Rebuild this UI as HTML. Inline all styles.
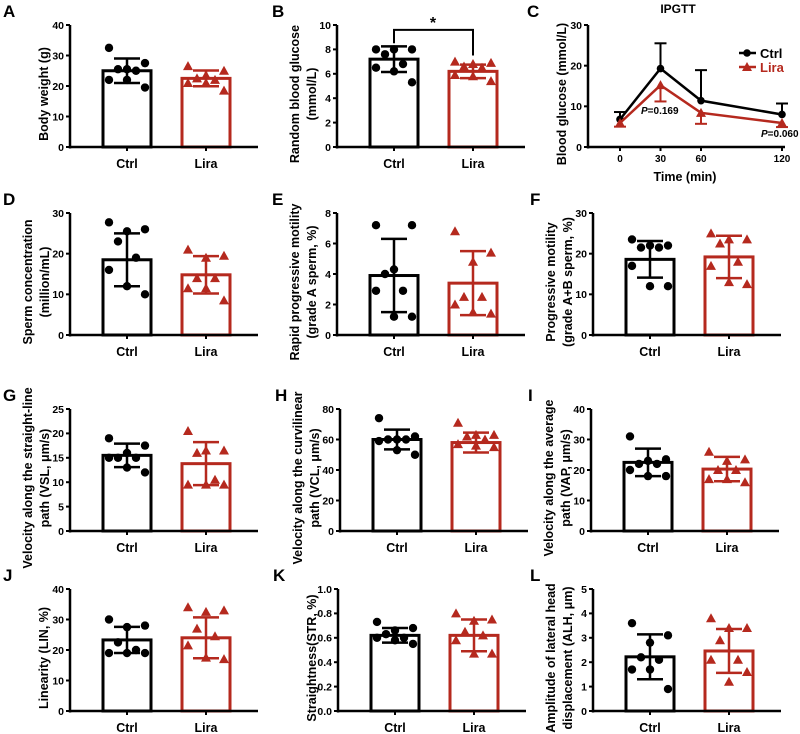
<!DOCTYPE html>
<html><head><meta charset="utf-8"><style>
body{margin:0;background:#fff;}
svg{display:block;font-family:"Liberation Sans",Arial,sans-serif;font-weight:bold;}
</style></head><body>
<svg id="fig" width="800" height="734" viewBox="0 0 800 734" xmlns="http://www.w3.org/2000/svg"></svg>
<script>
const aCtrl=[32.5,27.5,25.5,25.5,25,22,22,19.5];
const aLira=[26.5,25,23.5,22.5,22,21,21,18.5];
const aMean=[25,22.5];const aSd=[4,2.6];
const bCtrl=[8.0,8.0,8.0,7.6,6.8,6.5,6.2,5.3];
const bLira=[7.0,6.9,6.8,6.6,6.5,5.9,5.8,5.4];
const bMean=[7.2,6.2];const bSd=[1.05,0.55];
const cTimes=[0,30,60,120];
const cCtrlMean=[6.8,19.3,11.4,8.0];
const cCtrlSd=[1.8,6.2,7.5,2.7];
const cLiraMean=[5.9,15.2,8.4,5.9];
const cLiraSd=[0.9,4.0,2.7,1.0];
const cTicks=[0,30,60,120];
const dCtrl=[27.7,26,25.5,23,19,16,12,10];
const dLira=[21,19.5,19,14,14,11.5,11.5,8.5];
const dMean=[18.5,14.8];const dSd=[6.5,4.6];
const eCtrl=[7.2,7.2,4.3,4.0,2.9,2.9,1.2,1.2];
const eLira=[6.8,5.4,4.8,2.5,2.5,2.0,1.5,1.4];
const eMean=[3.9,3.4];const eSd=[2.4,2.1];
const fCtrl=[23.5,22,22,21.5,21.5,17,12,12];
const fLira=[25,23.5,23.5,22.5,18,17,13,12.5];
const fMean=[18.6,19.2];const fSd=[4.5,5.2];
const gCtrl=[19,17.5,16,15,15,15,13,12];
const gLira=[20.5,16.5,16.5,16,10.5,9.5,9.5,9.5];
const gMean=[15.5,13.8];const gSd=[2.4,4.4];
const hCtrl=[74,62,60,60,60,59,53,50];
const hLira=[71,63,63,62,60,57,56,55];
const hMean=[60,58];const hSd=[6.5,6.5];
const iCtrl=[31,23.5,23,22,22,20,18,18];
const iLira=[26,23.5,23,20,20,17,17,16];
const iMean=[22.5,20.3];const iSd=[4.5,4.0];
const jCtrl=[30,28,27.5,22.5,20,19,19,19];
const jLira=[34,33,32.5,27,24.5,21.5,17.5,17];
const jMean=[23.3,24];const jSd=[4.3,6.7];
const kCtrl=[0.73,0.68,0.66,0.63,0.6,0.6,0.58,0.55];
const kLira=[0.80,0.75,0.74,0.65,0.62,0.58,0.47,0.47];
const kMean=[0.62,0.62];const kSd=[0.06,0.13];
const lCtrl=[3.6,3.1,2.8,2.2,2.1,1.7,1.7,0.9];
const lLira=[3.8,3.4,3.4,2.9,2.1,2.1,1.2,1.6];
const lMean=[2.22,2.46];const lSd=[0.92,0.9];
const categories=["Ctrl","Lira"];

const NS="http://www.w3.org/2000/svg";
const svg=document.getElementById('fig');
const RED="#b5291e";
function el(tag,attrs,parent,text){const e=document.createElementNS(NS,tag);for(const k in attrs)e.setAttribute(k,attrs[k]);if(text!==undefined)e.textContent=text;(parent||svg).appendChild(e);return e;}
const jitter=[-18,18,0,-9,9,-18,0,18];

function yAxis(g,ax,y0,yt,max,step,fmt){
  el('line',{x1:ax,y1:y0+1.5,x2:ax,y2:yt,stroke:'#000','stroke-width':2.5},g);
  for(let v=0;v<=max+1e-9;v+=step){const y=y0-(v/max)*(y0-yt);
    el('line',{x1:ax-4,y1:y,x2:ax,y2:y,stroke:'#000','stroke-width':2},g);
    const t=el('text',{x:ax-6,y:y+3.8,'font-size':10.5,'text-anchor':'end'},g,fmt?fmt(v):String(v));
    }
}
function yTitle(g,ax,y0,yt,lines){
  const cy=(y0+yt)/2+8;
  const xs=lines.length===1?[ax-22]:[ax-38,ax-21];
  lines.forEach((s,i)=>{const t=el('text',{x:xs[i],y:cy,'font-size':12.5,'text-anchor':'middle',transform:`rotate(-90 ${xs[i]} ${cy})`},g,s);
    });
}
function tri(g,x,y,c){el('polygon',{points:`${x},${y-5} ${x-5},${y+4} ${x+5},${y+4}`,fill:c},g);}

function barPanel(letter,ax,y0,max,step,ctrl,lira,means,sds,lines,fmt){
  const g=el('g',{});
  
  const yt=y0-122;
  const ys=v=>y0-(v/max)*(y0-yt);
  const lt=el('text',{x:ax-(ax<100?67:(ax<400?65:63)),y:yt-8,'font-size':17},g,letter);
  
  [ctrl,lira].forEach((d,i)=>{
    const cx=ax+(i?136:57), col=i?RED:'#000';
    const m=means[i],s=sds[i];
    const bar=el('rect',{x:cx-24,y:ys(m),width:48,height:y0-ys(m),fill:'#fff',stroke:col,'stroke-width':3},g);
    
    d.forEach((v,j)=>{const px=cx+jitter[j%jitter.length];
      if(i)tri(g,px,ys(v),RED);else el('circle',{cx:px,cy:ys(v),r:4.2,fill:'#000'},g);});
    el('line',{x1:cx,y1:ys(m+s),x2:cx,y2:ys(m-s),stroke:col,'stroke-width':2.5},g);
    el('line',{x1:cx-13,y1:ys(m+s),x2:cx+13,y2:ys(m+s),stroke:col,'stroke-width':2.5},g);
    el('line',{x1:cx-13,y1:ys(m-s),x2:cx+13,y2:ys(m-s),stroke:col,'stroke-width':2.5},g);
    el('line',{x1:cx,y1:y0,x2:cx,y2:y0+4,stroke:'#000','stroke-width':2},g);
    const t=el('text',{x:cx,y:y0+21,'font-size':12.5,'text-anchor':'middle'},g,categories[i]);
    
  });
  el('line',{x1:ax,y1:y0,x2:ax+188,y2:y0,stroke:'#000','stroke-width':2.5},g);
  yAxis(g,ax,y0,yt,max,step,fmt);
  yTitle(g,ax,y0,yt,lines);
  return {g,ys};
}

barPanel('A',70,147,40,10,aCtrl,aLira,aMean,aSd,['Body weight (g)']);
const pb=barPanel('B',337,147,10,2,bCtrl,bLira,bMean,bSd,['Random blood glucose','(mmol/L)']);
{const by=pb.ys(9.6);
 el('path',{d:`M${337+57},${pb.ys(8.5)} V${by} H${337+136} V${pb.ys(7.5)}`,fill:'none',stroke:'#000','stroke-width':2},pb.g);
 const st=el('text',{x:337+96,y:by-2,'font-size':16,'text-anchor':'middle'},pb.g,'*');
 }

{
 const g=el('g',{});
 const ax=588,y0=147,yt=25,max=30;
 const ys=v=>y0-(v/max)*(y0-yt);
 const xs=t=>620+t*(162/120);
 const lt=el('text',{x:527,y:17,'font-size':17},g,'C');
 const tt=el('text',{x:678,y:13,'font-size':12,'text-anchor':'middle'},g,'IPGTT');
 el('line',{x1:ax,y1:y0,x2:785,y2:y0,stroke:'#000','stroke-width':2.5},g);
 cTicks.forEach(t=>{el('line',{x1:xs(t),y1:y0,x2:xs(t),y2:y0+4,stroke:'#000','stroke-width':2},g);
   const l=el('text',{x:xs(t),y:y0+15,'font-size':10,'text-anchor':'middle'},g,String(t));});
 yAxis(g,ax,y0,yt,max,10);
 yTitle(g,ax,y0,yt,['Blood glucose (mmol/L)']);
 const xt=el('text',{x:685,y:181,'font-size':12.5,'text-anchor':'middle'},g,'Time (min)');
 [[cCtrlMean,cCtrlSd,'#000',-1],[cLiraMean,cLiraSd,RED,1]].forEach(([m,s,col,dir],k)=>{
   m.forEach((v,i)=>{const x=xs(cTimes[i]);const ye=ys(v-dir*s[i]);
     el('line',{x1:x,y1:ys(v),x2:x,y2:ye,stroke:col,'stroke-width':2},g);
     el('line',{x1:x-6,y1:ye,x2:x+6,y2:ye,stroke:col,'stroke-width':2},g);});
   const p=el('polyline',{points:m.map((v,i)=>xs(cTimes[i])+','+ys(v)).join(' '),fill:'none',stroke:col,'stroke-width':2.5},g);
   
   m.forEach((v,i)=>{const x=xs(cTimes[i]);if(k)tri(g,x,ys(v),RED);else el('circle',{cx:x,cy:ys(v),r:3.8,fill:'#000'},g);});
 });
 const t1=el('text',{x:641,y:114,'font-size':10},g);t1.innerHTML='<tspan font-style="italic">P</tspan>=0.169';
 
 const t2=el('text',{x:761,y:137,'font-size':10},g);t2.innerHTML='<tspan font-style="italic">P</tspan>=0.060';
 
 [['Ctrl','#000',53],['Lira',RED,67]].forEach(([n,c,y],k)=>{
   const lg=el('g',{},g);
   el('line',{x1:739,y1:y,x2:756,y2:y,stroke:c,'stroke-width':2.5},lg);
   if(k)tri(lg,747,y,c);else el('circle',{cx:747,cy:y,r:3.8,fill:c},lg);
   el('text',{x:760,y:y+5,'font-size':13,fill:c},lg,n);
 });
}

barPanel('D',70,335,30,10,dCtrl,dLira,dMean,dSd,['Sperm concentration','(million/mL)']);
barPanel('E',337,335,8,2,eCtrl,eLira,eMean,eSd,['Rapid progressive motility','(grade A sperm, %)']);
barPanel('F',593,335,30,10,fCtrl,fLira,fMean,fSd,['Progressive motility','(grade A+B sperm, %)']);
barPanel('G',70,531,25,5,gCtrl,gLira,gMean,gSd,['Velocity along the straight-line','path (VSL, μm/s)']);
barPanel('H',340,531,80,20,hCtrl,hLira,hMean,hSd,['Velocity along the curvilinear','path (VCL, μm/s)']);
barPanel('I',591,531,40,10,iCtrl,iLira,iMean,iSd,['Velocity along the average','path (VAP, μm/s)']);
barPanel('J',70,711,40,10,jCtrl,jLira,jMean,jSd,['Linearity (LIN, %)']);
barPanel('K',338,711,1,0.2,kCtrl,kLira,kMean,kSd,['Straightness(STR, %)'],v=>v.toFixed(1));
barPanel('L',593,711,5,1,lCtrl,lLira,lMean,lSd,['Amplitude of lateral head','displacement (ALH, μm)']);
</script>
</body></html>
